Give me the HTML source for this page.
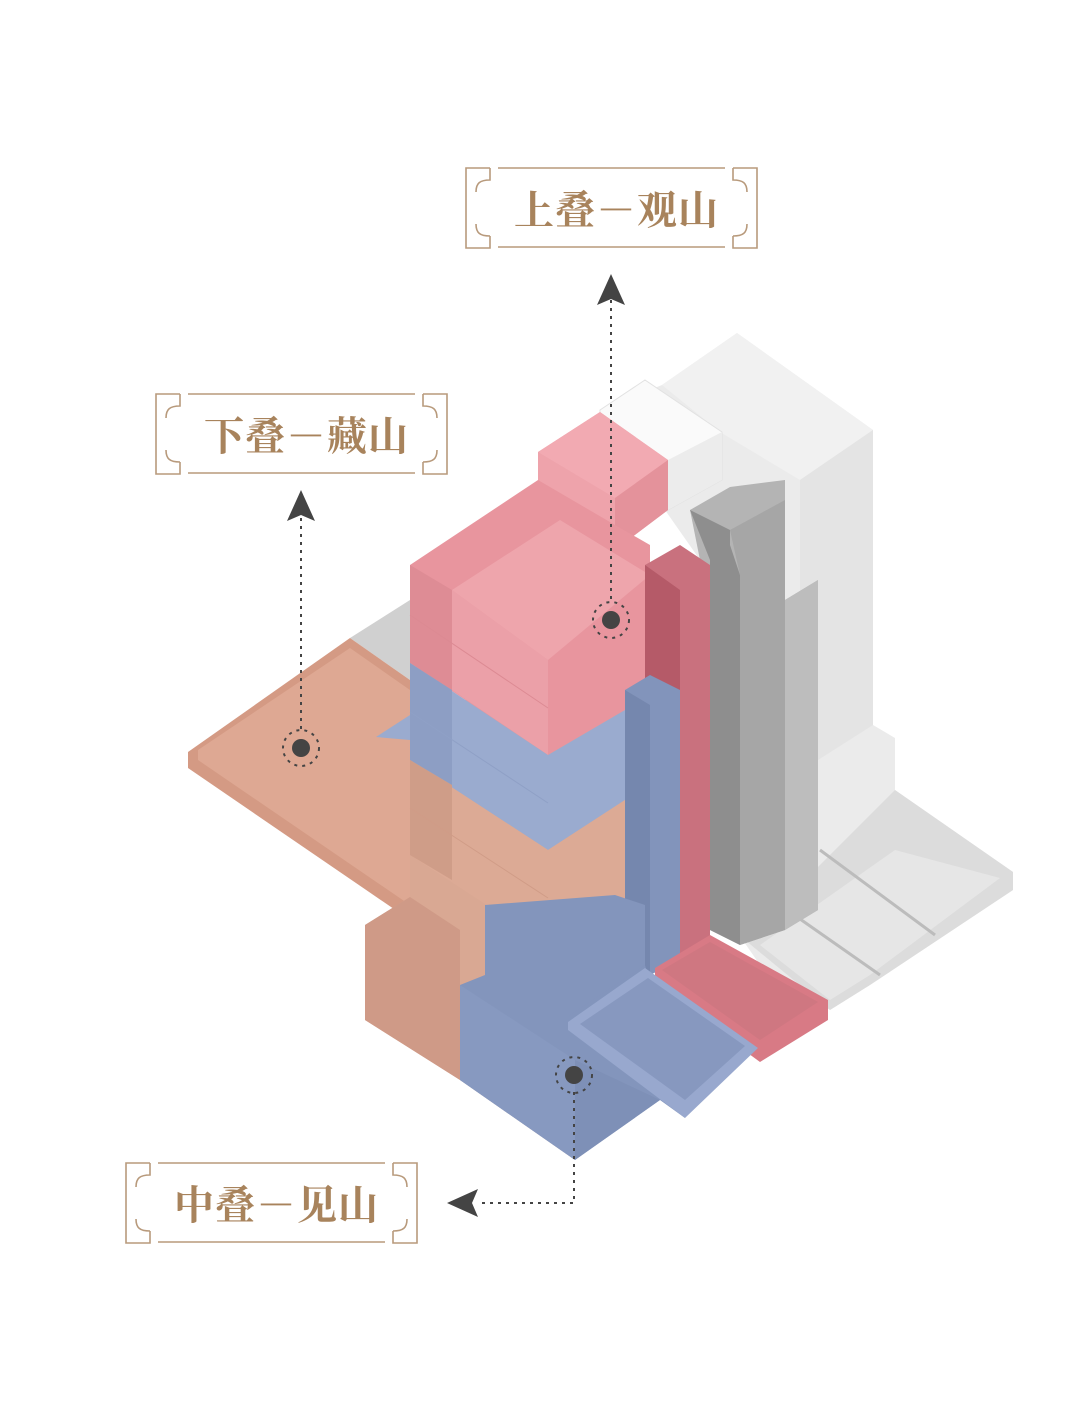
<!DOCTYPE html>
<html><head><meta charset="utf-8"><style>
html,body{margin:0;padding:0;background:#fff}
svg{display:block}
.lbl{font-family:"Liberation Serif","Noto Serif CJK SC",serif;font-weight:bold;font-size:40px;fill:#a8835c;letter-spacing:1px}
</style></head><body>
<svg width="1080" height="1403" viewBox="0 0 1080 1403" xmlns="http://www.w3.org/2000/svg">
<!-- gray back mass -->
<polygon points="600,410 662,385 737,333 873,430 873,725 895,738 895,790 1013,872 1013,890 870,985 830,1010 760,965 715,900 700,560 665,510 600,460" fill="#ebebeb"/>
<polygon points="662,385 737,333 873,430 800,480 720,432" fill="#f1f1f1"/>
<polygon points="800,480 873,430 873,725 818,760 800,740" fill="#e4e4e4"/>
<polygon points="745,940 895,790 1013,872 1013,890 870,985 830,1010" fill="#dcdcdc"/>
<polygon points="760,945 895,850 1000,878 870,975 830,1000" fill="#e6e6e6"/>
<line x1="820" y1="850" x2="935" y2="935" stroke="#bcbcbc" stroke-width="3"/>
<line x1="780" y1="905" x2="880" y2="975" stroke="#bcbcbc" stroke-width="3"/>
<!-- gray mid columns -->
<polygon points="690,510 730,487 785,480 785,600 818,580 818,910 785,930 740,945 710,930 700,560" fill="#b4b4b4"/>
<polygon points="690,510 730,530 730,545 740,575 740,945 710,930 710,560" fill="#8e8e8e"/>
<polygon points="730,530 785,500 785,930 740,945 740,575" fill="#a6a6a6"/>
<polygon points="785,600 818,580 818,910 785,930" fill="#bdbdbd"/>
<!-- left gray tray behind -->
<polygon points="350,638 410,600 410,680" fill="#d0d0d0"/>
<!-- white cube -->
<polygon points="600,410 645,380 722,432 722,480 668,510 600,460" fill="#fafafa" stroke="#e2e2e2"/>
<polygon points="668,460 722,432 722,480 668,510" fill="#ececec"/>
<!-- peach tray left -->
<polygon points="188,752 350,638 410,680 410,920 188,768" fill="#d49a84"/>
<polygon points="198,750 350,648 410,690 410,905 198,760" fill="#dea893"/>
<!-- underlay for stack -->
<polygon points="365,925 410,897 410,700 625,700 645,900 645,1000 575,1160 460,1080 365,1020" fill="#d9a893"/>
<!-- pink top cube -->
<polygon points="538,452 600,412 668,460 668,510 615,550 538,500" fill="#eea3ab"/>
<polygon points="538,452 600,412 668,460 615,498" fill="#f2aab2"/>
<polygon points="615,498 668,460 668,510 615,550" fill="#e4929b"/>
<!-- pink main -->
<polygon points="410,565 538,480 615,525 650,545 650,690 625,710 548,755 410,663" fill="#e8959e"/>
<polygon points="452,590 548,660 548,755 452,690" fill="#eba0a8"/>
<polygon points="410,565 452,590 452,690 410,663" fill="#de8c95"/>
<polygon points="452,590 560,520 650,575 548,660" fill="#eea5ac"/>
<line x1="410" y1="615" x2="548" y2="708" stroke="#dc8a93" stroke-width="1"/>
<!-- blue band -->
<polygon points="410,663 548,755 625,710 625,800 548,850 410,760 410,740 376,737 410,715" fill="#9aabcf"/>
<polygon points="410,663 452,690 452,785 410,760" fill="#8d9ec4"/>
<line x1="410" y1="712" x2="548" y2="803" stroke="#8fa0c6" stroke-width="1"/>
<!-- peach band -->
<polygon points="410,760 548,850 625,800 625,900 548,945 410,855" fill="#dcaa95"/>
<polygon points="410,760 452,785 452,880 410,855" fill="#cf9d88"/>
<line x1="410" y1="808" x2="548" y2="898" stroke="#d09c87" stroke-width="1"/>
<!-- red column -->
<polygon points="645,565 680,545 710,565 710,945 680,960 645,940" fill="#c9717e"/>
<polygon points="645,565 680,590 680,960 645,940" fill="#b55a68"/>
<!-- blue column -->
<polygon points="625,690 650,675 680,690 680,960 650,975 625,960" fill="#8294bb"/>
<polygon points="625,690 650,705 650,975 625,960" fill="#7587ae"/>
<!-- pink tray -->
<polygon points="655,968 710,935 828,1000 828,1020 760,1062 655,985" fill="#d87a85"/>
<polygon points="662,970 710,942 818,1002 760,1040" fill="#cf7781"/>
<!-- lower peach -->
<polygon points="365,925 410,897 460,930 460,1080 365,1020" fill="#cf9a87"/>
<!-- lower blue -->
<polygon points="485,905 615,895 645,905 645,965 570,1020 575,1160 460,1080 460,985 485,975" fill="#8395bc"/>
<polygon points="570,1015 645,965 685,1118 660,1100 575,1160 568,1060" fill="#8395bc"/>
<polygon points="460,985 575,1060 575,1160 460,1080" fill="#8799c0"/>
<polygon points="575,1060 660,1100 575,1160" fill="#7e90b7"/>
<polygon points="568,1022 645,968 758,1048 685,1118 568,1030" fill="#98a8ce"/>
<polygon points="580,1024 648,978 745,1046 685,1100" fill="#8798bf"/>
<!-- markers & dotted connectors -->
<g stroke="#444" fill="none" stroke-width="2" stroke-dasharray="3,5">
<line x1="611" y1="300" x2="611" y2="603"/>
<line x1="301" y1="518" x2="301" y2="731"/>
<polyline points="574,1092 574,1203 480,1203"/>
<circle cx="611" cy="620" r="18"/><circle cx="301" cy="748" r="18"/><circle cx="574" cy="1075" r="18"/>
</g>
<g fill="#444">
<circle cx="611" cy="620" r="9"/><circle cx="301" cy="748" r="9"/><circle cx="574" cy="1075" r="9"/>
<polygon points="611,274 597,305 611,299 625,305"/>
<polygon points="301,490 287,521 301,515 315,521"/>
<polygon points="447,1203 478,1189 472,1203 478,1217"/>
</g>
<!-- label frames -->
<g id="f" fill="none" stroke="#b89a7c" stroke-width="1.6">
<path d="M490,168 H466 V248 H490 V236 M490,168 V180 C480,180 476,183 476,192 M490,236 C480,236 476,233 476,224"/>
<path d="M733,168 H757 V248 H733 V236 M733,168 V180 C743,180 747,183 747,192 M733,236 C743,236 747,233 747,224"/>
<line x1="498" y1="168" x2="725" y2="168"/><line x1="498" y1="247" x2="725" y2="247"/>
</g>
<use href="#f" x="-310" y="226"/>
<use href="#f" x="-340" y="995"/>
<text class="lbl" x="514" y="224">上叠－观山</text>
<text class="lbl" x="204" y="450">下叠－藏山</text>
<text class="lbl" x="174" y="1219">中叠－见山</text>
</svg>
</body></html>
